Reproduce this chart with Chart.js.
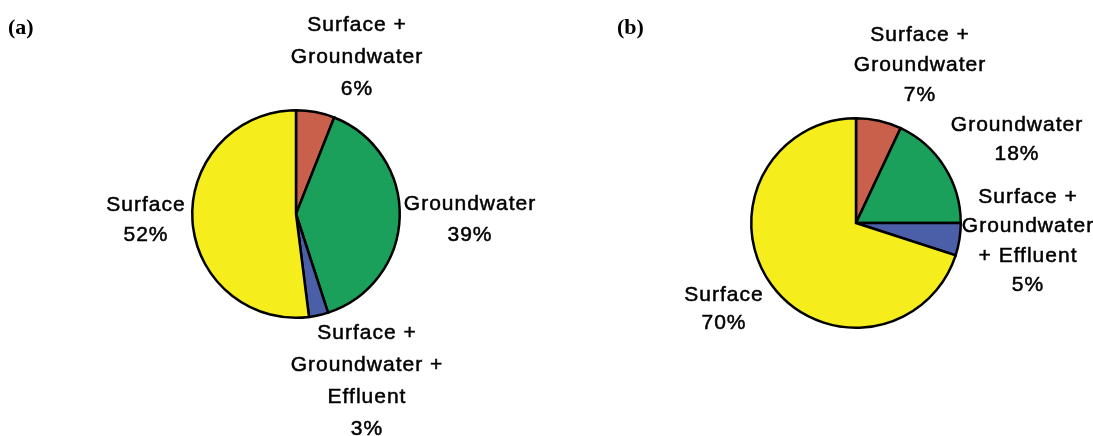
<!DOCTYPE html>
<html lang="en">
<head>
<meta charset="utf-8">
<title>Water source pies</title>
<script src="https://cdn.jsdelivr.net/npm/chart.js@4.4.0/dist/chart.umd.min.js"></script>
<style>
  html, body { margin: 0; padding: 0; background: #fff; }
  .box { position: absolute; top: 0; height: 436px; }
  #boxA { left: 0; width: 546px; }
  #boxB { left: 546px; width: 547px; }
</style>
</head>
<body>

<div class="box" id="boxA"><canvas id="pieA"></canvas></div>
<div class="box" id="boxB"><canvas id="pieB"></canvas></div>

<script>
// slice order (clockwise from 12 o'clock)
var categories = ['Surface + Groundwater', 'Groundwater', 'Surface + Groundwater + Effluent', 'Surface'];
var valuesA = [6, 39, 3, 52];
var valuesB = [7, 18, 5, 70];
var sliceColors = ['#c8604c', '#1aa05a', '#4a5fa8', '#f6ee1c'];

// label texts (one entry per text block, lines split)
var labelsA = [
  ['Surface +', 'Groundwater', '6%'],
  ['Groundwater', '39%'],
  ['Surface +', 'Groundwater +', 'Effluent', '3%'],
  ['Surface', '52%']
];
var labelsB = [
  ['Surface +', 'Groundwater', '7%'],
  ['Groundwater', '18%'],
  ['Surface +', 'Groundwater', '+ Effluent', '5%'],
  ['Surface', '70%']
];

// where each label block sits in its canvas: [centre x, first line y, line step]
var placeA = [[357, 25, 32], [470, 204, 31], [367, 333, 32], [146, 205, 30]];
var placeB = [[374, 35, 30], [471, 125, 29], [482, 197, 29.5], [178, 295, 28]];

function labelPlugin(id, title, titleX, texts, places) {
  return {
    id: id,
    afterDraw: function (chart) {
      var ctx = chart.ctx;
      ctx.save();
      ctx.fillStyle = '#000';
      ctx.font = 'bold 22px "Liberation Serif", "Times New Roman", serif';
      ctx.textAlign = 'left';
      ctx.textBaseline = 'alphabetic';
      ctx.fillText(title, titleX, 34);

      ctx.font = '21px "Liberation Sans", Arial, sans-serif';
      ctx.letterSpacing = '1px';
      ctx.textAlign = 'center';
      ctx.textBaseline = 'middle';
      ctx.strokeStyle = '#000';
      ctx.lineWidth = 0.5;
      for (var i = 0; i < texts.length; i++) {
        var p = places[i];
        for (var j = 0; j < texts[i].length; j++) {
          ctx.fillText(texts[i][j], p[0], p[1] + j * p[2]);
          ctx.strokeText(texts[i][j], p[0], p[1] + j * p[2]);
        }
      }
      ctx.restore();
    }
  };
}

function makePie(canvasId, values, padding, plugin) {
  return new Chart(document.getElementById(canvasId), {
    type: 'pie',
    data: {
      labels: categories,
      datasets: [{
        data: values,
        backgroundColor: sliceColors,
        borderColor: '#000',
        borderWidth: 2.5,
        borderJoinStyle: 'miter'
      }]
    },
    options: {
      responsive: true,
      maintainAspectRatio: false,
      animation: false,
      layout: { padding: padding },
      plugins: {
        legend: { display: false },
        tooltip: { enabled: false }
      }
    },
    plugins: [plugin]
  });
}

makePie('pieA', valuesA, { left: 191, right: 145, top: 109, bottom: 117 },
  labelPlugin('labelsA', '(a)', 8, labelsA, placeA));
makePie('pieB', valuesB, { left: 204, right: 131, top: 117, bottom: 107 },
  labelPlugin('labelsB', '(b)', 71, labelsB, placeB));
</script>
</body>
</html>
